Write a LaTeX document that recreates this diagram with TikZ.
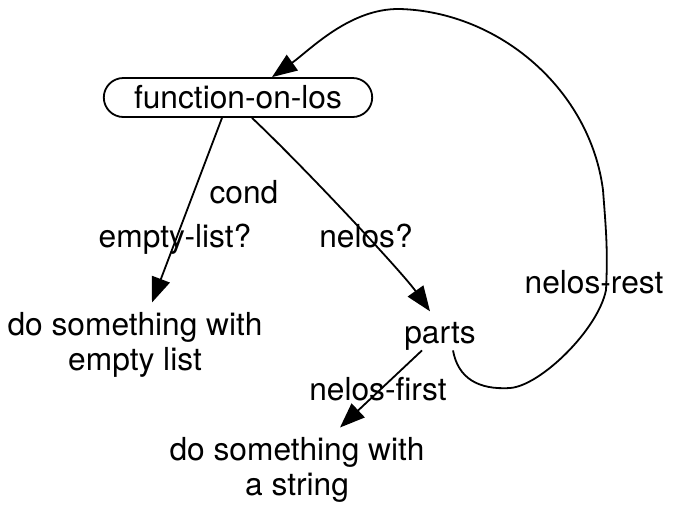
\documentclass[tikz,border=0pt]{standalone}
\usepackage{fontspec}
\setmainfont{TeX Gyre Heros}
\usetikzlibrary{arrows.meta,calc,shapes.misc}
\tikzset{
	lbl/.style={font=\fontsize{31.7}{35}\selectfont, inner sep=3.3pt},
	flow/.style={line width=1.8pt, -{Triangle[length=25pt,width=19pt]}}
}

\begin{document}
\begin{tikzpicture}[x=1pt, y=-1pt]
		%%%%% START %%%%%
		\useasboundingbox (0, 0) rectangle (678, 504);
		
		\node[lbl, draw, line width=1.8pt, rounded rectangle, minimum width=275pt, minimum height=39pt] (fol) at (238, 97.5) {function-on-los};
		\node[lbl, align=center] (empty) at (135, 344.5) {do something with\\empty list};
		\node[lbl, anchor=base] (parts) at (440, 343) {parts};
		\node[lbl, align=center] (string) at (297, 469.5) {do something with\\a string};
		
		\node[lbl, anchor=base] (cond) at (244, 203) {cond};
		\node[lbl, anchor=base] (emptyq) at (175, 247) {empty-list?};
		\node[lbl, anchor=base] (nelosq) at (366, 247) {nelos?};
		\node[lbl, anchor=base] (rest) at (594, 293) {nelos-rest};
		\node[lbl, anchor=base] (first) at (378, 400) {nelos-first};
		
		\draw[flow] ($(fol.south)+(-16, 0)$) -- ($(empty.north)+(17, -6)$);
		\draw[flow] ($(fol.south)+(14, 0)$) .. controls (305, 168) and (402, 272) .. ($(parts.north)+(-10, -7)$);
		\draw[flow] ($(parts.south)+(-18, -3)$) -- ($(string.north)+(43, -6)$);
		
		\draw[flow] ($(parts.south)+(13, -3)$) .. controls (458, 378) and (478, 390) .. (510, 388)
			.. controls (540, 386) and (598, 330) .. (606, 290)
			.. controls (608, 250) and (606, 230) .. (603, 190)
			.. controls (590, 90) and (500, 12) .. (400, 9)
			.. controls (350, 8) and (310, 50) .. ($(fol.north)+(34, 0)$);
		
		%%%%% END %%%%%
	\end{tikzpicture}
\end{document}
